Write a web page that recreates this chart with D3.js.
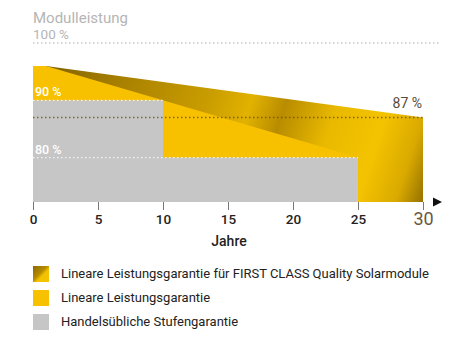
<!DOCTYPE html>
<html>
<head>
<meta charset="utf-8">
<script src="https://cdn.jsdelivr.net/npm/d3@7"></script>
<style>
  html, body { margin: 0; padding: 0; background: #fff; }
  svg { display: block; font-family: Roboto, "Noto Sans", sans-serif; }
</style>
</head>
<body>
<svg id="chart" width="474" height="339"></svg>
<script>
// Guarantee curves: [year, module output in %]
const firstClassGuarantee = [[0, 96], [1, 96], [30, 87]];
const linearGuarantee = [[0, 96], [1, 96], [25, 80]];
const stepGuarantee = [[0, 90], [10, 90], [10, 80], [25, 80]];
const yearTicks = [0, 5, 10, 15, 20, 25, 30];
const percentMarks = [
  { value: 90, label: "90 %", end: 10 },
  { value: 80, label: "80 %", end: 25 }
];
const firstClassEnd = { value: 87, label: "87 %" };
const legendItems = [
  { key: "gold", label: "Lineare Leistungsgarantie für FIRST CLASS Quality Solarmodule" },
  { key: "linear", label: "Lineare Leistungsgarantie" },
  { key: "step", label: "Handelsübliche Stufengarantie" }
];

const svg = d3.select("#chart");
const x = d3.scaleLinear().domain([0, 30]).range([33, 423]);
const y = d3.scaleLinear().domain([72.25, 100]).range([202, 43]);
const yBase = y.domain()[0];

const YELLOW = "#f8c100";
const GRAY = "#c6c6c6";

// Metallic gold gradient
const defs = svg.append("defs");
const gold = defs.append("linearGradient")
  .attr("id", "gold").attr("gradientUnits", "userSpaceOnUse")
  .attr("x1", 40).attr("y1", 60).attr("x2", 430).attr("y2", 190);
[[0, "#7d5e00"], [0.2, "#a88000"], [0.42, "#c99d00"], [0.52, "#e2b200"],
 [0.6, "#b88c00"], [0.72, "#e9b900"], [0.84, "#f4c300"], [0.93, "#d9a900"], [1, "#8e6b00"]]
  .forEach(([o, c]) => gold.append("stop").attr("offset", o).attr("stop-color", c));

const legendGold = defs.append("linearGradient")
  .attr("id", "goldSwatch").attr("x1", 0).attr("y1", 0).attr("x2", 1).attr("y2", 1);
[[0, "#8a6800"], [0.45, "#b88c00"], [0.6, "#f2c200"], [1, "#f6c400"]]
  .forEach(([o, c]) => legendGold.append("stop").attr("offset", o).attr("stop-color", c));

const area = d3.area().x(d => x(d[0])).y0(y(yBase)).y1(d => y(d[1])).curve(d3.curveLinear);

// FIRST CLASS linear guarantee (gold)
svg.append("path").datum(firstClassGuarantee).attr("d", area).attr("fill", "url(#gold)");
// Standard linear guarantee (yellow)
svg.append("path").datum(linearGuarantee).attr("d", area).attr("fill", YELLOW);
// Step guarantee (gray)
svg.append("path").datum(stepGuarantee).attr("d", area).attr("fill", GRAY);

// 100 % reference line
svg.append("line")
  .attr("x1", x(0)).attr("x2", 440).attr("y1", y(100)).attr("y2", y(100))
  .attr("stroke", "#c8c8c8").attr("stroke-width", 1.3).attr("stroke-dasharray", "1.5,2.5");

// Step levels: white dotted lines + labels
percentMarks.forEach(m => {
  svg.append("line")
    .attr("x1", x(0)).attr("x2", x(m.end)).attr("y1", y(m.value)).attr("y2", y(m.value))
    .attr("stroke", "#f4f4f4").attr("stroke-width", 1.3).attr("stroke-dasharray", "1.5,2.5");
  svg.append("text")
    .attr("x", x(0) + 2).attr("y", y(m.value) - 4)
    .attr("fill", "#fff").attr("font-size", 12.5).attr("font-weight", 500)
    .text(m.label);
});

// 87 % end value line + label
svg.append("line")
  .attr("x1", x(0)).attr("x2", x(30)).attr("y1", y(firstClassEnd.value)).attr("y2", y(firstClassEnd.value))
  .attr("stroke", "#6b4e10").attr("stroke-opacity", 0.8).attr("stroke-width", 1.3).attr("stroke-dasharray", "1.5,2.5");
svg.append("text")
  .attr("x", x(30) - 1).attr("y", y(firstClassEnd.value) - 9)
  .attr("text-anchor", "end").attr("fill", "#5a4a38").attr("font-size", 14)
  .text(firstClassEnd.label);

// Title
svg.append("text").attr("x", 33).attr("y", 22.5)
  .attr("fill", "#b5b5b5").attr("font-size", 15).text("Modulleistung");
svg.append("text").attr("x", 33).attr("y", 39)
  .attr("fill", "#b5b5b5").attr("font-size", 13.5).text("100 %");

// X axis
const xAxis = d3.axisBottom(x).tickValues(yearTicks).tickSize(8).tickPadding(4).tickFormat(d3.format("d"));
const gx = svg.append("g").attr("transform", `translate(0,${y(yBase)})`).call(xAxis);
gx.select(".domain").remove();
gx.selectAll(".tick line").attr("stroke", "#777").attr("stroke-width", 1);
gx.selectAll(".tick text")
  .attr("font-family", "Roboto, sans-serif")
  .attr("font-size", d => d === 30 ? 18 : 13.5)
  .attr("font-weight", d => d === 30 ? 400 : 500)
  .attr("fill", d => d === 30 ? "#6b5840" : "#222")
  .attr("dy", d => d === 30 ? "0.6em" : "0.71em");

// Axis arrow
svg.append("path")
  .attr("d", `M${x(30) + 10},${y(yBase) - 4.5} L${x(30) + 19},${y(yBase)} L${x(30) + 10},${y(yBase) + 4.5} Z`)
  .attr("fill", "#111");

svg.append("text").attr("x", 229).attr("y", 245.5)
  .attr("text-anchor", "middle").attr("fill", "#222").attr("font-size", 14).attr("font-weight", 500)
  .text("Jahre");

// Legend
const fills = { gold: "url(#goldSwatch)", linear: YELLOW, step: GRAY };
const lg = svg.append("g");
legendItems.forEach((d, i) => {
  const yy = 266 + i * 24;
  lg.append("rect").attr("x", 33).attr("y", yy).attr("width", 16).attr("height", 16).attr("fill", fills[d.key]);
  lg.append("text").attr("x", 61).attr("y", yy + 11.5)
    .attr("fill", "#222").attr("font-size", 13).text(d.label);
});
</script>
</body>
</html>
